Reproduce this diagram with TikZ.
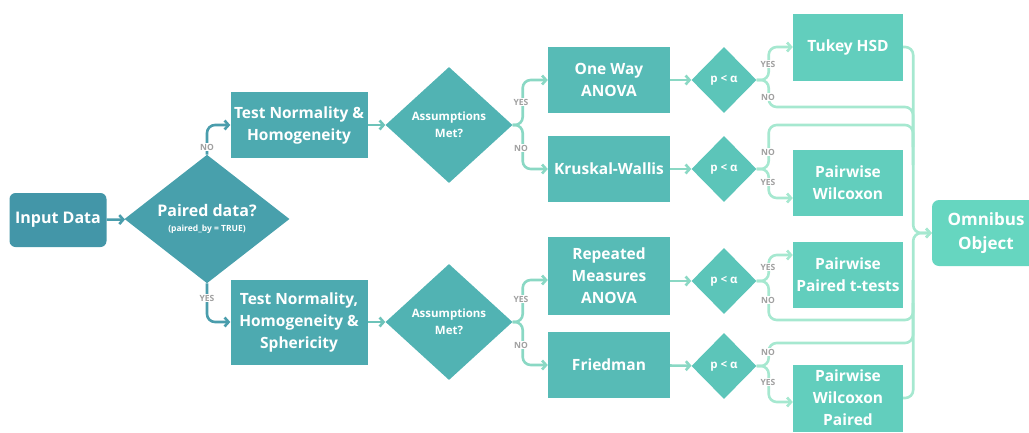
\documentclass[tikz,border=0pt]{standalone}
\usepackage{fontspec}
\setmainfont{Open Sans}
\usetikzlibrary{arrows.meta, positioning, shapes.geometric}

\definecolor{inputcol}{HTML}{4396A8}
\definecolor{pairedcol}{HTML}{48A0AC}
\definecolor{testcol}{HTML}{4DAAB0}
\definecolor{asmcol}{HTML}{51B3B3}
\definecolor{methcol}{HTML}{57BBB6}
\definecolor{pcol}{HTML}{5CC5B9}
\definecolor{postcol}{HTML}{62CEBD}
\definecolor{omnicol}{HTML}{66D6C0}
\definecolor{lineA}{HTML}{4A9DAC}
\definecolor{lineB}{HTML}{6DC3B9}
\definecolor{lineC}{HTML}{8AD8C4}
\definecolor{lineD}{HTML}{A6E8D0}
\definecolor{labgrey}{HTML}{A0A0A0}

\begin{document}
\begin{tikzpicture}[
    x=1pt, y=-1pt,
    box/.style={rectangle, inner sep=0pt, text=white, align=center, minimum width=122pt, minimum height=66pt, font=\bfseries\fontsize{15.5}{22}\selectfont},
    dia/.style={diamond, inner sep=0pt, text=white, align=center, font=\bfseries\fontsize{11.5}{17}\selectfont},
    lab/.style={fill=white, text=labgrey, inner sep=1pt, font=\bfseries\fontsize{8.5}{9}\selectfont},
    arr/.style={-{Straight Barb[length=4pt,width=9pt]}, line width=2.6pt, rounded corners=8pt},
    wire/.style={line width=2.6pt, rounded corners=8pt}
]
\path[use as bounding box, clip] (0,0) rectangle (1029,432);

% Start
\node[box, fill=inputcol, rounded corners=6pt, minimum width=97pt, minimum height=54pt, font=\bfseries\fontsize{16}{19}\selectfont] (input) at (58,220) {Input Data};
\node[dia, fill=pairedcol, minimum width=165pt, minimum height=118pt, font=\bfseries\fontsize{16}{19}\selectfont] (paired) at (207,219) {Paired data?\\[-4pt]{\fontsize{8.5}{9}\selectfont (paired\_by = TRUE)}};

% Assumption checks
\node[box, fill=testcol, minimum width=137pt] (testA) at (299,125) {Test Normality \&\\Homogeneity};
\node[box, fill=testcol, minimum width=137pt, minimum height=85pt] (testB) at (299,322) {Test Normality,\\Homogeneity \&\\Sphericity};
\node[dia, fill=asmcol, minimum width=127pt, minimum height=116pt] (asmA) at (449,125) {Assumptions\\Met?};
\node[dia, fill=asmcol, minimum width=127pt, minimum height=116pt] (asmB) at (449,322) {Assumptions\\Met?};

% Omnibus tests
\node[box, fill=methcol] (oneway) at (609,80) {One Way\\ANOVA};
\node[box, fill=methcol] (kruskal) at (609,169) {Kruskal-Wallis};
\node[box, fill=methcol, minimum height=78pt] (rmanova) at (609,276) {Repeated\\Measures\\ANOVA};
\node[box, fill=methcol] (friedman) at (609,365) {Friedman};

\node[dia, fill=pcol, minimum width=65pt, minimum height=66pt] (pA) at (724,80) {p < α};
\node[dia, fill=pcol, minimum width=65pt, minimum height=66pt] (pB) at (724,169) {p < α};
\node[dia, fill=pcol, minimum width=65pt, minimum height=66pt] (pC) at (724,281) {p < α};
\node[dia, fill=pcol, minimum width=65pt, minimum height=66pt] (pD) at (724,366) {p < α};

% Post hoc tests
\node[box, fill=postcol, minimum width=110pt, minimum height=67pt] (tukey) at (848,47) {Tukey HSD};
\node[box, fill=postcol, minimum width=110pt] (wilcox) at (848,183) {Pairwise\\Wilcoxon};
\node[box, fill=postcol, minimum width=110pt] (pairedt) at (848,275) {Pairwise\\Paired t-tests};
\node[box, fill=postcol, minimum width=110pt, minimum height=67pt] (wilcoxp) at (848,398) {Pairwise\\Wilcoxon\\Paired};

\node[box, fill=omnicol, rounded corners=7pt, minimum width=108pt, minimum height=66pt, font=\bfseries\fontsize{17}{24}\selectfont] (omni) at (986,233) {Omnibus\\Object};

\coordinate (busA) at (913,107);
\coordinate (busB) at (913,125);
\coordinate (busC) at (913,320);
\coordinate (busD) at (913,343);

% Connectors
\draw[arr, lineA] (input) -- (paired);
\draw[arr, lineA] (paired.north) |- (testA.west);
\draw[arr, lineA] (paired.south) |- (testB.west);

\draw[arr, lineB] (testA) -- (asmA);
\draw[arr, lineB] (testB) -- (asmB);
\draw[arr, lineC] (asmA.east) -- ++(10,0) |- (oneway.west);
\draw[arr, lineC] (asmA.east) -- ++(10,0) |- (kruskal.west);
\draw[arr, lineC] (asmB.east) -- ++(10,0) |- ([yshift=-4pt]rmanova.west);
\draw[arr, lineC] (asmB.east) -- ++(10,0) |- (friedman.west);

\draw[arr, lineC] (oneway) -- (pA);
\draw[arr, lineC] (kruskal) -- (pB);
\draw[arr, lineC] (pC -| rmanova.east) -- (pC);
\draw[arr, lineC] (friedman) -- (pD);

\draw[arr, lineD] (pA.east) -- ++(12,0) |- (tukey.west);
\draw[arr, lineD] (pB.east) -- ++(12,0) |- ([yshift=-15pt]wilcox.west);
\draw[arr, lineD] (pC.east) -- ++(12,0) |- ([yshift=20pt]pairedt.west);
\draw[arr, lineD] (pD.east) -- ++(12,0) |- ([yshift=-4pt]wilcoxp.west);

\draw[arr, lineD] (tukey.east) -- ++(10,0) |- (omni.west);
\draw[arr, lineD] (wilcoxp.east) -- ++(10,0) |- (omni.west);
\draw[wire, lineD] (pA.east) -- ++(12,0) |- (busA) -- ++(0,40);
\draw[wire, lineD] (pB.east) -- ++(12,0) |- (busB) -- ++(0,40);
\draw[wire, lineD] (pC.east) -- ++(12,0) |- (busC) -- ++(0,-40);
\draw[wire, lineD] (pD.east) -- ++(12,0) |- (busD) -- ++(0,-40);

% Labels
\node[lab] (noA) at (207,147) {NO};
\node[lab] (yesA) at (207,298) {YES};
\node[lab] (yesB) at (521,102) {YES};
\node[lab] (noB) at (521,148) {NO};
\node[lab] (yesC) at (521,299) {YES};
\node[lab] (noC) at (521,345) {NO};
\node[lab] (yesD) at (768,64) {YES};
\node[lab] (noD) at (768,97) {NO};
\node[lab] (noE) at (768,152) {NO};
\node[lab] (yesE) at (768,182) {YES};
\node[lab] (yesF) at (768,267) {YES};
\node[lab] (noF) at (768,300) {NO};
\node[lab] (noG) at (768,352) {NO};
\node[lab] (yesG) at (768,382) {YES};
\end{tikzpicture}
\end{document}
